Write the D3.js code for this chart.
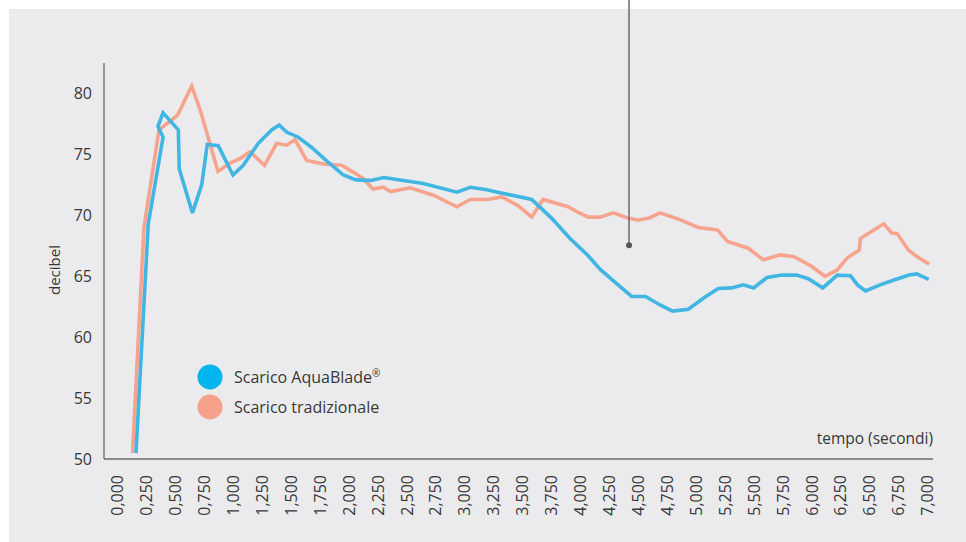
<!DOCTYPE html>
<html>
<head>
<meta charset="utf-8">
<script src="https://cdn.jsdelivr.net/npm/d3@7"></script>
<style>
  html, body { margin: 0; padding: 0; background: #ffffff; }
  svg { display: block; }
  text { font-family: "Open Sans", Lato, sans-serif; font-weight: 400; fill: #383838; }
</style>
</head>
<body>
<svg id="chart" width="966" height="542"></svg>
<script>
// ---- data ----
const seriesNames = ["Scarico AquaBlade", "Scarico tradizionale"];
const xTicks = d3.range(0, 7.0001, 0.25);
const yTicks = [50, 55, 60, 65, 70, 75, 80];

const aquaX = [0.164, 0.270, 0.398, 0.354, 0.398, 0.530, 0.538, 0.652, 0.732, 0.780, 0.875, 1.002, 1.091, 1.221, 1.337, 1.400, 1.469, 1.567, 1.677, 1.819, 1.956, 2.065, 2.195, 2.307, 2.446, 2.647, 2.938, 3.053, 3.195, 3.310, 3.584, 3.757, 3.915, 4.066, 4.183, 4.318, 4.448, 4.567, 4.693, 4.801, 4.937, 5.067, 5.196, 5.312, 5.413, 5.502, 5.617, 5.748, 5.874, 5.974, 6.099, 6.225, 6.339, 6.399, 6.469, 6.594, 6.715, 6.845, 6.911, 7.015];
const aquaY = [50.5, 69.3, 76.4, 77.3, 78.4, 77.0, 73.8, 70.2, 72.5, 75.8, 75.7, 73.3, 74.1, 75.9, 77.0, 77.4, 76.8, 76.4, 75.6, 74.4, 73.3, 72.9, 72.85, 73.1, 72.9, 72.6, 71.9, 72.3, 72.1, 71.85, 71.3, 69.75, 68.1, 66.75, 65.5, 64.4, 63.35, 63.35, 62.65, 62.15, 62.3, 63.2, 64.0, 64.05, 64.3, 64.05, 64.9, 65.1, 65.1, 64.8, 64.05, 65.1, 65.05, 64.3, 63.8, 64.3, 64.7, 65.1, 65.2, 64.75];

const tradX = [0.134, 0.233, 0.363, 0.523, 0.646, 0.726, 0.873, 0.981, 1.063, 1.149, 1.275, 1.380, 1.467, 1.538, 1.639, 1.783, 1.942, 2.048, 2.128, 2.212, 2.301, 2.364, 2.532, 2.734, 2.938, 3.053, 3.202, 3.325, 3.465, 3.584, 3.681, 3.898, 3.973, 4.073, 4.174, 4.289, 4.405, 4.505, 4.606, 4.693, 4.848, 5.024, 5.190, 5.276, 5.355, 5.456, 5.585, 5.730, 5.851, 5.989, 6.118, 6.222, 6.309, 6.415, 6.424, 6.542, 6.626, 6.695, 6.743, 6.839, 6.931, 7.020];
const tradY = [50.5, 69.0, 77.0, 78.2, 80.6, 78.4, 73.6, 74.3, 74.65, 75.2, 74.1, 75.9, 75.75, 76.2, 74.5, 74.2, 74.1, 73.5, 73.0, 72.15, 72.3, 71.95, 72.25, 71.65, 70.7, 71.3, 71.3, 71.5, 70.8, 69.85, 71.3, 70.7, 70.3, 69.85, 69.85, 70.2, 69.8, 69.6, 69.8, 70.2, 69.7, 69.0, 68.8, 67.85, 67.6, 67.3, 66.35, 66.75, 66.6, 65.9, 65.0, 65.5, 66.5, 67.15, 68.1, 68.8, 69.3, 68.55, 68.5, 67.15, 66.5, 66.0];

const markerX = 4.425;
const markerY = 67.55;

// ---- layout ----
const svg = d3.select("#chart");
const W = 966, H = 542;
const plot = { left: 104, right: 933, top: 63, bottom: 459 };

svg.append("rect").attr("x", 9).attr("y", 9).attr("width", W - 9).attr("height", H - 9)
  .attr("fill", "#ebebed");

const x = d3.scaleLinear().domain([0, 7]).range([117, 927]);
const y = d3.scaleLinear().domain([50, 80]).range([459.3, 93.3]);

const axisColor = "#6b6b6b";
const fontFam = "'Open Sans', Lato, sans-serif";

// axis lines
svg.append("line").attr("x1", plot.left).attr("x2", plot.left)
  .attr("y1", plot.top).attr("y2", plot.bottom)
  .attr("stroke", axisColor).attr("stroke-width", 1.3);
svg.append("line").attr("x1", plot.left).attr("x2", plot.right)
  .attr("y1", plot.bottom).attr("y2", plot.bottom)
  .attr("stroke", axisColor).attr("stroke-width", 1.3);

// y axis
const yAxis = svg.append("g").attr("transform", `translate(${plot.left},0)`)
  .call(d3.axisLeft(y).tickValues(yTicks).tickSize(0).tickPadding(12));
yAxis.select(".domain").remove();
yAxis.selectAll("text").style("font-size", "16px").attr("fill", "#383838")
  .style("font-family", fontFam).style("font-weight", 400);

// x axis
const itLocale = d3.formatLocale({ decimal: ",", thousands: ".", grouping: [3], currency: ["", "€"] });
const fmt = itLocale.format(".3f");
const xAxis = svg.append("g").attr("transform", `translate(0,${plot.bottom})`)
  .call(d3.axisBottom(x).tickValues(xTicks).tickFormat(fmt).tickSize(0));
xAxis.select(".domain").remove();
xAxis.selectAll("text")
  .attr("transform", "rotate(-90)")
  .attr("text-anchor", "end")
  .attr("x", -16).attr("y", 0).attr("dy", "0.36em")
  .attr("fill", "#383838")
  .style("font-size", "16px")
  .style("font-family", fontFam).style("font-weight", 400);

// axis titles
svg.append("text").attr("transform", `translate(60,270) rotate(-90)`)
  .attr("text-anchor", "middle").style("font-size", "15px").text("decibel");
svg.append("text").attr("x", 933).attr("y", 444)
  .attr("text-anchor", "end").style("font-size", "15.5px").text("tempo (secondi)");

// lines
const line = d3.line().x(d => x(d[0])).y(d => y(d[1]));
const tradData = tradX.map((v, i) => [v, tradY[i]]);
const aquaData = aquaX.map((v, i) => [v, aquaY[i]]);

svg.append("path").datum(tradData).attr("d", line)
  .attr("fill", "none").attr("stroke", "#f7a48e").attr("stroke-width", 3.6)
  .attr("stroke-linejoin", "miter").attr("stroke-miterlimit", 3);
svg.append("path").datum(aquaData).attr("d", line)
  .attr("fill", "none").attr("stroke", "#41b6e2").attr("stroke-width", 3.6)
  .attr("stroke-linejoin", "miter").attr("stroke-miterlimit", 3);

// marker
svg.append("line").attr("x1", x(markerX)).attr("x2", x(markerX))
  .attr("y1", 0).attr("y2", y(markerY))
  .attr("stroke", "#555").attr("stroke-width", 1.3);
svg.append("circle").attr("cx", x(markerX)).attr("cy", y(markerY)).attr("r", 3)
  .attr("fill", "#555");

// legend
const legendColors = ["#00b4ee", "#f6a28b"];
const lg = svg.append("g");
seriesNames.forEach((name, i) => {
  const cy = 377 + i * 30;
  lg.append("circle").attr("cx", 210).attr("cy", cy).attr("r", 12.5).attr("fill", legendColors[i]);
  const t = lg.append("text").attr("x", 234).attr("y", cy + 6).style("font-size", "16px").text(name);
  if (i === 0) {
    t.append("tspan").attr("dy", "-6").style("font-size", "10px").text("®");
  }
});
</script>
</body>
</html>
